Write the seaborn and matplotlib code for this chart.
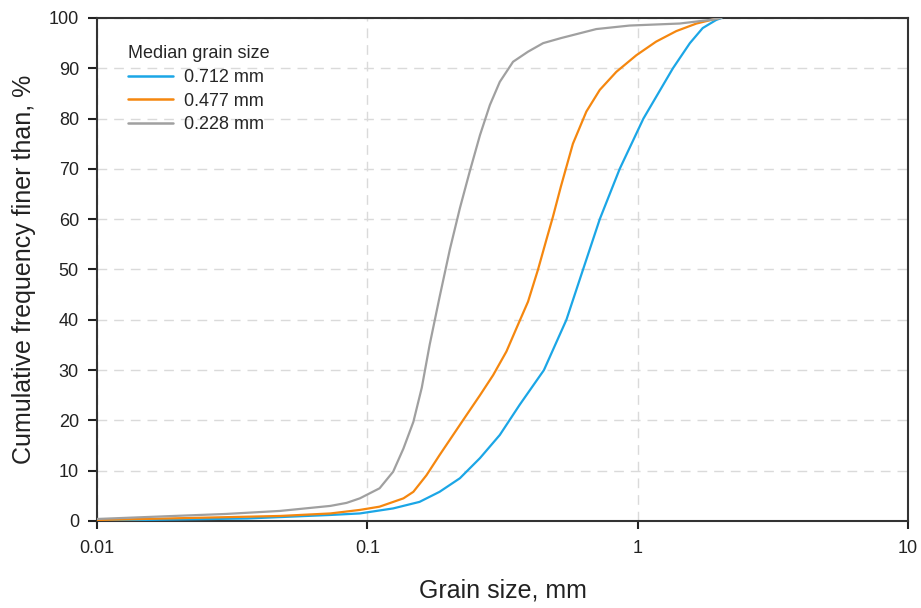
import numpy as np
import pandas as pd
import matplotlib
matplotlib.use("Agg")
import matplotlib.pyplot as plt
import seaborn as sns

# ---- data ----
labels = ["0.712 mm", "0.477 mm", "0.228 mm"]

x_712 = [0.01, 0.02, 0.036, 0.073, 0.0938, 0.1246, 0.156, 0.185, 0.220, 0.261,
         0.309, 0.366, 0.45, 0.545, 0.628, 0.724, 0.858, 1.05, 1.35, 1.56,
         1.74, 1.95, 2.04]
y_712 = [0.1, 0.3, 0.5, 1.2, 1.5, 2.5, 3.8, 5.8, 8.5, 12.5,
         17.1, 23.1, 30, 40, 50, 60, 70, 80, 90, 95,
         98, 99.6, 100]

x_477 = [0.01, 0.02, 0.0475, 0.073, 0.0938, 0.111, 0.136, 0.148, 0.1655, 0.185,
         0.2076, 0.233, 0.261, 0.292, 0.327, 0.356, 0.393, 0.428, 0.460, 0.486,
         0.52, 0.576, 0.646, 0.724, 0.834, 0.989, 1.17, 1.39, 1.65, 2.0]
y_477 = [0.2, 0.55, 1.0, 1.5, 2.2, 2.85, 4.5, 5.8, 9.1, 13.1,
         17.1, 21.1, 25.0, 29.0, 33.7, 38.3, 43.6, 50, 56, 60.5,
         66.5, 75.0, 81.4, 85.7, 89.3, 92.6, 95.3, 97.4, 98.9, 100]

x_228 = [0.01, 0.0203, 0.03, 0.0475, 0.073, 0.0838, 0.0938, 0.111, 0.1246, 0.136,
         0.148, 0.159, 0.170, 0.185, 0.202, 0.220, 0.239, 0.261, 0.284, 0.309,
         0.346, 0.393, 0.447, 0.52, 0.703, 0.934, 1.43, 1.84, 2.04]
y_228 = [0.4, 1.05, 1.4, 2.0, 3.0, 3.6, 4.5, 6.5, 9.8, 14.4,
         19.7, 26.5, 35.0, 44.5, 54.0, 62.2, 69.4, 76.7, 82.7, 87.3,
         91.3, 93.3, 95.0, 96.0, 97.8, 98.5, 98.9, 99.6, 100]

colors = ["#1BA6E6", "#F5870F", "#A0A0A0"]
x_ticks = [0.01, 0.1, 1, 10]
x_ticklabels = ["0.01", "0.1", "1", "10"]
y_ticks = list(range(0, 101, 10))

df = pd.concat([
    pd.DataFrame({"size": x_712, "cum": y_712, "series": labels[0]}),
    pd.DataFrame({"size": x_477, "cum": y_477, "series": labels[1]}),
    pd.DataFrame({"size": x_228, "cum": y_228, "series": labels[2]}),
], ignore_index=True)

sns.set_theme(style="ticks")
plt.rcParams["font.family"] = ["Liberation Sans", "DejaVu Sans"]
plt.rcParams["xtick.major.size"] = 6
plt.rcParams["ytick.major.size"] = 6.5

fig = plt.figure(figsize=(9.21, 6.08), dpi=100)
ax = fig.add_axes([0.1053, 0.1431, 0.8806, 0.8273])

sns.lineplot(data=df, x="size", y="cum", hue="series", hue_order=labels,
             palette=dict(zip(labels, colors)), sort=False, estimator=None,
             linewidth=1.6, ax=ax, zorder=3)

ax.set_xscale("log")
ax.set_xlim(0.01, 10)
ax.set_ylim(0, 100)
ax.set_xticks(x_ticks)
ax.set_xticklabels(x_ticklabels)
ax.xaxis.set_minor_locator(matplotlib.ticker.NullLocator())
ax.set_yticks(y_ticks)

ax.grid(True, which="major", color="#DADADA", linestyle=(0, (7, 5)), linewidth=1.0, zorder=0)
ax.set_axisbelow(True)

for s in ax.spines.values():
    s.set_color("#333333")
    s.set_linewidth(1.5)
    s.set_visible(True)

ax.tick_params(axis="x", which="major", direction="out", length=6, width=1.5,
               color="#222222", labelsize=13, labelcolor="#222222", pad=8,
               bottom=True, top=False)
ax.tick_params(axis="y", which="major", direction="out", length=6.5, width=1.5,
               color="#222222", labelsize=13, labelcolor="#222222", pad=6.5,
               left=True, right=False)

ax.set_xlabel("Grain size, mm", fontsize=18, color="#222222", labelpad=15)
ax.set_ylabel("Cumulative frequency finer than, %", fontsize=18, color="#222222", labelpad=9)

leg = ax.legend(title="Median grain size", loc="upper left", bbox_to_anchor=(0.018, 0.978),
                frameon=False, fontsize=13, title_fontsize=13, handlelength=2.5,
                handletextpad=0.6, labelspacing=0.36, alignment="left")
leg._legend_box.sep = 5
for line in leg.get_lines():
    line.set_linewidth(1.8)

fig.savefig("out.png", dpi=100)
